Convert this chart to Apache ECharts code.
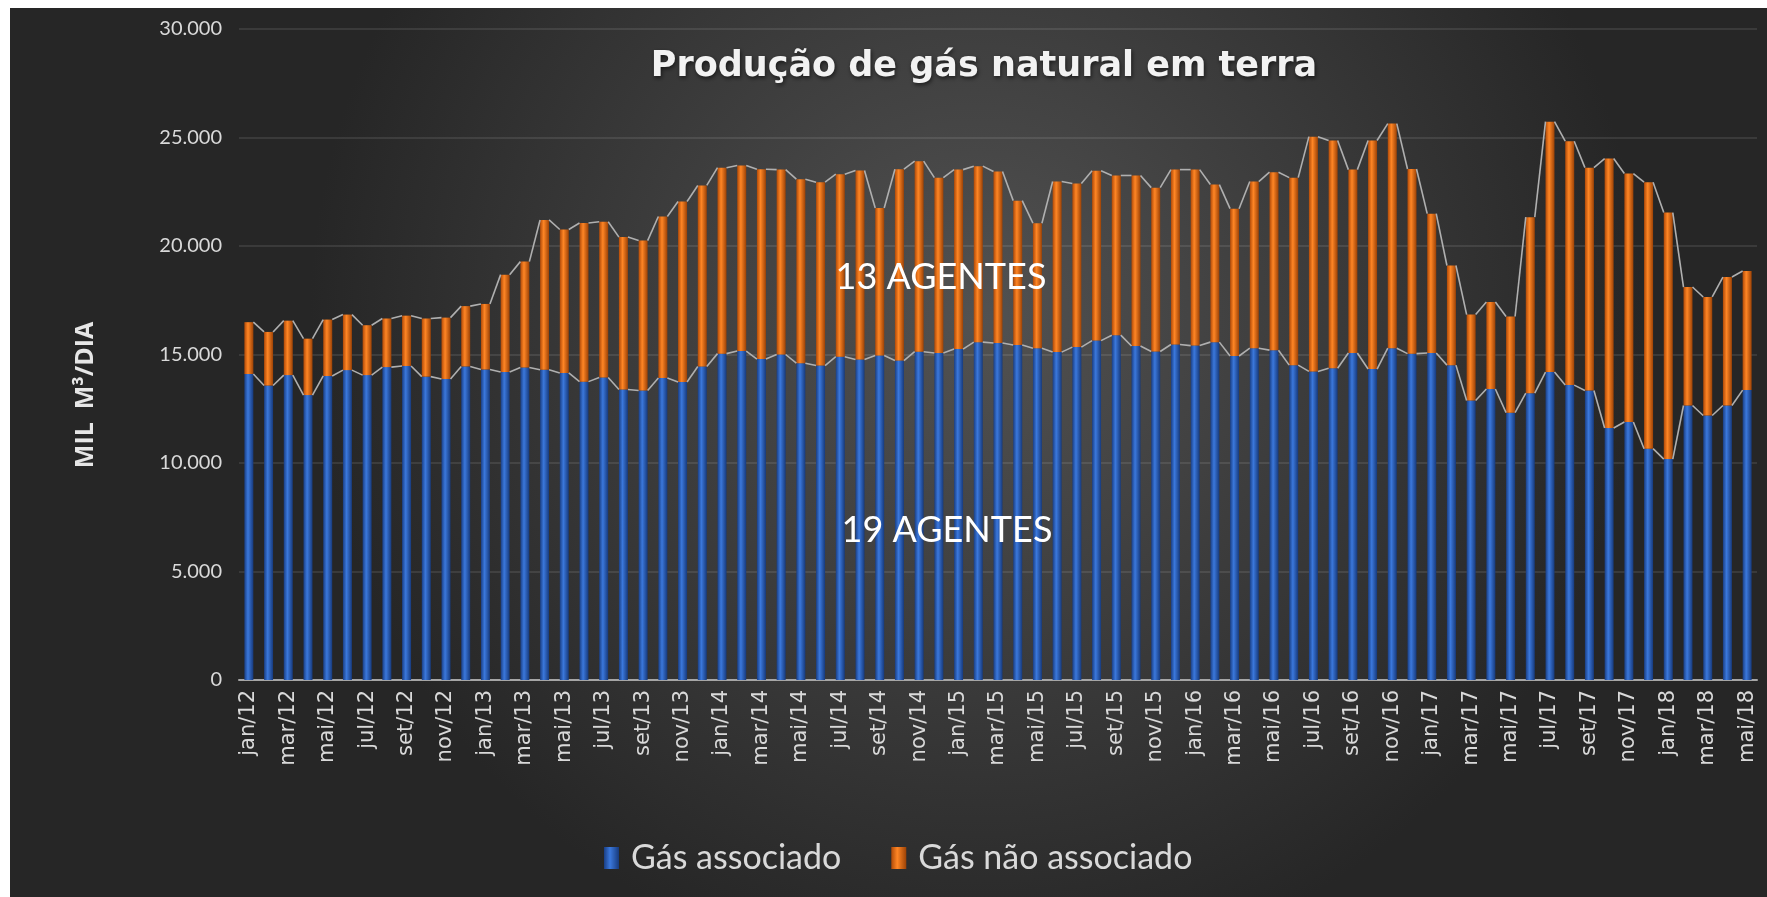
<!DOCTYPE html>
<html>
<head>
<meta charset="utf-8">
<script src="https://cdn.jsdelivr.net/npm/echarts@6/dist/echarts.min.js"></script>
<style>
html,body{margin:0;padding:0;background:#fff;}
#c{width:1767px;height:897px;}
</style>
</head>
<body>
<div id="c"></div>
<script>
const monthNames = ['jan','fev','mar','abr','mai','jun','jul','ago','set','out','nov','dez'];
const categories = [];
for (let y = 12; y <= 18; y++) {
  for (let m = 0; m < 12; m++) {
    if (y === 18 && m > 4) break;
    categories.push(monthNames[m] + '/' + y);
  }
}
const yTicks = [0, 5000, 10000, 15000, 20000, 25000, 30000];

const gasAssociado = [
  14100,13570,14050,13130,14010,14280,14050,14420,14470,13980,13870,14450,
  14310,14190,14400,14300,14150,13750,13940,13390,13340,13920,13730,14450,
  15040,15160,14790,15000,14600,14490,14900,14770,14950,14720,15130,15070,
  15250,15570,15530,15440,15290,15110,15340,15640,15890,15390,15140,15460,
  15410,15570,14930,15290,15200,14510,14220,14370,15070,14330,15290,15040,
  15070,14510,12880,13410,12320,13220,14190,13590,13340,11610,11890,10660,
  10180,12650,12190,12650,13360
];
const gasNaoAssociado = [
  2390,2470,2510,2600,2600,2560,2300,2240,2320,2680,2830,2780,
  3020,4490,4880,6900,6610,7310,7180,7020,6910,7440,8320,8340,
  8570,8550,8750,8520,8480,8450,8410,8710,6800,8820,8780,8080,
  8270,8110,7900,6650,5760,7860,7540,7830,7360,7860,7550,8060,
  8110,7260,6790,7680,8200,8640,10820,10490,8450,10530,10350,8510,
  6420,4590,3960,4010,4430,8110,11540,11240,10270,12420,11450,12280,
  11360,5460,5460,5920,5490
];
const totals = gasAssociado.map((v, i) => v + gasNaoAssociado[i]);

const BAR_W = 9;

function fmt(v) {
  return String(v).replace(/\B(?=(\d{3})+(?!\d))/g, '.');
}

function seriesLine(vals) {
  return {
    type: 'custom',
    silent: true,
    z: 5,
    encode: { x: 0, y: 1 },
    data: vals.slice(0, -1).map((v, i) => [i, v, vals[i + 1]]),
    renderItem: function (params, api) {
      const i = api.value(0);
      const a = api.coord([i, api.value(1)]);
      const b = api.coord([i + 1, api.value(2)]);
      const hw = BAR_W / 2;
      return {
        type: 'line',
        shape: { x1: a[0] + hw, y1: a[1], x2: b[0] - hw, y2: b[1] },
        style: { stroke: '#b0b0b0', lineWidth: 1.6 }
      };
    }
  };
}

const blueGrad = {
  type: 'linear', x: 0, y: 0, x2: 1, y2: 0,
  colorStops: [
    { offset: 0, color: '#1a3f85' },
    { offset: 0.4, color: '#3b78dc' },
    { offset: 1, color: '#173a7c' }
  ]
};
const orangeGrad = {
  type: 'linear', x: 0, y: 0, x2: 1, y2: 0,
  colorStops: [
    { offset: 0, color: '#b04a08' },
    { offset: 0.4, color: '#ff8625' },
    { offset: 1, color: '#9c4206' }
  ]
};

const chart = echarts.init(document.getElementById('c'));
chart.setOption({
  backgroundColor: '#ffffff',
  animation: false,
  graphic: [
    {
      type: 'rect', z: -10, silent: true,
      shape: { x: 10, y: 8, width: 1757, height: 889 },
      style: {
        fill: {
          type: 'radial', x: 0.55, y: 0.35, r: 0.75,
          colorStops: [
            { offset: 0, color: '#525252' },
            { offset: 1, color: '#262626' }
          ]
        }
      }
    },
    {
      type: 'text', z: 100, silent: true,
      x: 984, y: 67,
      style: {
        text: 'Produção de gás natural em terra',
        fill: '#f2f2f2',
        font: 'bold 35px "DejaVu Sans"',
        textAlign: 'center', textVerticalAlign: 'middle',
        textShadowColor: 'rgba(0,0,0,0.6)', textShadowBlur: 4, textShadowOffsetX: 1, textShadowOffsetY: 2
      }
    },
    {
      type: 'text', z: 100, silent: true,
      x: 86, y: 395, rotation: Math.PI / 2,
      style: {
        text: 'MIL  M³/DIA',
        fill: '#e6e6e6',
        font: 'bold 25px "Open Sans"',
        textAlign: 'center', textVerticalAlign: 'middle'
      }
    },
    {
      type: 'text', z: 100, silent: true,
      x: 941, y: 277,
      style: {
        text: '13 AGENTES', fill: '#ffffff',
        font: '36px Lato',
        textAlign: 'center', textVerticalAlign: 'middle'
      }
    },
    {
      type: 'text', z: 100, silent: true,
      x: 947, y: 530,
      style: {
        text: '19 AGENTES', fill: '#ffffff',
        font: '36px Lato',
        textAlign: 'center', textVerticalAlign: 'middle'
      }
    }
  ],
  grid: { left: 239, right: 10, top: 29, bottom: 217 },
  legend: {
    data: ['Gás associado', 'Gás não associado'],
    left: 599, top: 836,
    icon: 'rect',
    itemWidth: 15, itemHeight: 22, itemGap: 50,
    textStyle: { color: '#d9d9d9', fontSize: 34, fontFamily: 'Lato', padding: [0, 0, 0, 7] }
  },
  xAxis: {
    type: 'category',
    data: categories,
    axisLine: { lineStyle: { color: '#a6a6a6', width: 2 } },
    axisTick: { show: false },
    axisLabel: {
      interval: 1, rotate: 90, color: '#d9d9d9',
      fontSize: 21, fontFamily: '"DejaVu Sans", sans-serif', margin: 10
    }
  },
  yAxis: {
    type: 'value',
    min: 0, max: 30000, interval: 5000,
    axisLine: { show: false },
    axisTick: { show: false },
    splitLine: { lineStyle: { color: 'rgba(255,255,255,0.13)', width: 1.5 } },
    axisLabel: {
      color: '#d9d9d9', fontSize: 20, fontFamily: 'Lato', margin: 17,
      formatter: function (v) { return yTicks.indexOf(v) >= 0 ? fmt(v) : ''; }
    }
  },
  series: [
    {
      name: 'Gás associado', type: 'bar', stack: 'gas',
      barWidth: BAR_W, data: gasAssociado,
      itemStyle: { color: blueGrad }
    },
    {
      name: 'Gás não associado', type: 'bar', stack: 'gas',
      barWidth: BAR_W, data: gasNaoAssociado,
      itemStyle: { color: orangeGrad }
    },
    seriesLine(gasAssociado),
    seriesLine(totals)
  ]
});
</script>
</body>
</html>
